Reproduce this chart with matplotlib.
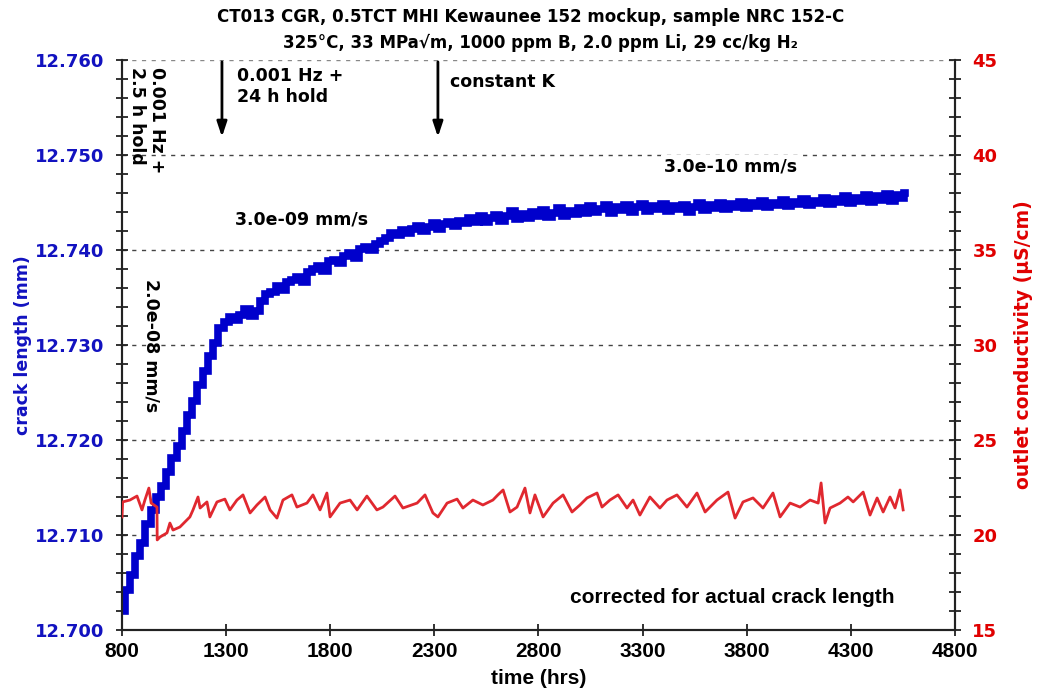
import matplotlib
matplotlib.use("Agg")
import matplotlib.pyplot as plt
from matplotlib.ticker import MultipleLocator, FormatStrFormatter

# ---------------- data ----------------
crack_hours = [800, 825, 850, 875, 900, 925, 950, 975, 1000, 1025, 1050, 1075, 1100, 1125, 1150,
               1175, 1200, 1225, 1250, 1275, 1300, 1325, 1350, 1375, 1400, 1425, 1450, 1475, 1500,
               1525, 1550, 1575, 1600, 1625, 1650, 1675, 1700, 1725, 1750, 1775, 1800, 1825, 1850,
               1875, 1900, 1925, 1950, 1975, 2000, 2025, 2050, 2075, 2100, 2125, 2150, 2175, 2200,
               2225, 2250, 2275, 2300, 2325, 2350, 2375, 2400, 2425, 2450, 2475, 2500, 2525, 2550,
               2575, 2600, 2625, 2650, 2675, 2700, 2725, 2750, 2775, 2800, 2825, 2850, 2875, 2900,
               2925, 2950, 2975, 3000, 3025, 3050, 3075, 3100, 3125, 3150, 3175, 3200, 3225, 3250,
               3275, 3300, 3325, 3350, 3375, 3400, 3425, 3450, 3475, 3500, 3525, 3550, 3575, 3600,
               3625, 3650, 3675, 3700, 3725, 3750, 3775, 3800, 3825, 3850, 3875, 3900, 3925, 3950,
               3975, 4000, 4025, 4050, 4075, 4100, 4125, 4150, 4175, 4200, 4225, 4250, 4275, 4300,
               4325, 4350, 4375, 4400, 4425, 4450, 4475, 4500, 4525, 4550, 4560]
crack_mm = [12.7020, 12.7042, 12.7058, 12.7078, 12.7092, 12.7112, 12.7126, 12.7140, 12.7152, 12.7166,
            12.7181, 12.7194, 12.7210, 12.7226, 12.7241, 12.7258, 12.7273, 12.7288, 12.7302, 12.7318,
            12.7324, 12.7330, 12.7326, 12.7332, 12.7338, 12.7331, 12.7336, 12.7346, 12.7354, 12.7356,
            12.7362, 12.7358, 12.7366, 12.7368, 12.7372, 12.7366, 12.7377, 12.7380, 12.7383, 12.7378,
            12.7388, 12.7390, 12.7386, 12.7394, 12.7397, 12.7392, 12.7401, 12.7403, 12.7400, 12.7406,
            12.7409, 12.7413, 12.7418, 12.7416, 12.7421, 12.7418, 12.7422, 12.7425, 12.7420, 12.7424,
            12.7428, 12.7422, 12.7427, 12.7430, 12.7425, 12.7431, 12.7428, 12.7434, 12.7430, 12.7436,
            12.7429, 12.7434, 12.7437, 12.7431, 12.7436, 12.7441, 12.7433, 12.7438, 12.7434, 12.7440,
            12.7436, 12.7442, 12.7435, 12.7439, 12.7444, 12.7436, 12.7441, 12.7438, 12.7444, 12.7439,
            12.7446, 12.7440, 12.7443, 12.7447, 12.7439, 12.7445, 12.7442, 12.7447, 12.7440, 12.7445,
            12.7448, 12.7441, 12.7446, 12.7443, 12.7448, 12.7441, 12.7446, 12.7443, 12.7447, 12.7440,
            12.7445, 12.7449, 12.7442, 12.7447, 12.7444, 12.7450, 12.7443, 12.7448, 12.7445, 12.7451,
            12.7444, 12.7449, 12.7446, 12.7452, 12.7445, 12.7450, 12.7447, 12.7453, 12.7446, 12.7451,
            12.7448, 12.7454, 12.7447, 12.7452, 12.7449, 12.7455, 12.7448, 12.7454, 12.7451, 12.7457,
            12.7450, 12.7455, 12.7452, 12.7458, 12.7451, 12.7457, 12.7453, 12.7459, 12.7452, 12.7458,
            12.7455, 12.7460]

cond_hours = [800, 803, 838, 872, 896, 910, 929, 940, 968, 969, 982, 1016, 1030, 1045, 1078, 1126,
              1141, 1165, 1175, 1208, 1222, 1256, 1294, 1318, 1352, 1381, 1415, 1448, 1487, 1511,
              1544, 1573, 1616, 1640, 1688, 1717, 1751, 1784, 1799, 1847, 1895, 1929, 1976, 2024,
              2053, 2111, 2149, 2217, 2255, 2293, 2317, 2361, 2409, 2437, 2485, 2533, 2581, 2605,
              2630, 2663, 2697, 2735, 2759, 2783, 2822, 2870, 2918, 2961, 2999, 3033, 3081, 3105,
              3143, 3182, 3225, 3254, 3287, 3335, 3383, 3417, 3465, 3513, 3561, 3600, 3657, 3710,
              3744, 3782, 3830, 3878, 3926, 3960, 4008, 4056, 4104, 4143, 4157, 4176, 4200, 4248,
              4286, 4311, 4359, 4392, 4426, 4455, 4488, 4512, 4536, 4551]
cond_uS = [20.95, 21.74, 21.84, 22.05, 21.32, 21.84, 22.47, 21.68, 21.47, 19.74, 19.89, 20.11,
           20.63, 20.26, 20.42, 20.95, 21.32, 22.00, 21.42, 21.74, 20.95, 21.74, 21.89, 21.32,
           21.84, 22.11, 21.16, 21.58, 22.00, 21.32, 20.89, 21.84, 22.11, 21.47, 21.68, 22.11,
           21.32, 22.21, 20.95, 21.68, 21.84, 21.32, 22.05, 21.32, 21.47, 22.05, 21.42, 21.68,
           22.11, 21.16, 20.95, 21.68, 21.89, 21.42, 21.84, 21.58, 21.84, 22.11, 22.37, 21.21,
           21.47, 22.47, 21.16, 22.11, 20.95, 21.68, 22.11, 21.21, 21.58, 21.95, 22.21, 21.47,
           21.84, 22.11, 21.42, 21.84, 21.05, 22.00, 21.42, 21.84, 22.11, 21.47, 22.21, 21.21,
           21.84, 22.26, 20.89, 21.74, 21.95, 21.42, 22.21, 20.95, 21.68, 21.47, 21.84, 21.68,
           22.74, 20.63, 21.42, 21.68, 22.00, 21.74, 22.26, 21.05, 21.95, 21.21, 22.00, 21.42,
           22.37, 21.32]

x_ticks = [800, 1300, 1800, 2300, 2800, 3300, 3800, 4300, 4800]
arrow_hours = [1280, 2317]

title_lines = ["CT013 CGR, 0.5TCT MHI Kewaunee 152 mockup, sample NRC 152-C",
               "325°C, 33 MPa√m, 1000 ppm B, 2.0 ppm Li, 29 cc/kg H₂"]

# ---------------- style ----------------
BLUE = "#0000CC"
BLUE_TXT = "#1212C0"
RED = "#E0282F"
RED_TXT = "#E00000"
BOLD = ["DejaVu Sans"]
NARROW = ["Liberation Sans Narrow", "Liberation Sans", "DejaVu Sans"]

fig = plt.figure(figsize=(10.38, 6.98), dpi=100)
ax = fig.add_axes([122 / 1038, 1 - 630 / 698, (955 - 122) / 1038, (630 - 60) / 698])
ax2 = ax.twinx()

ax.set_xlim(800, 4800)
ax.set_ylim(12.700, 12.760)
ax2.set_ylim(15, 45)

# grid lines (dotted)
for v in [12.710, 12.720, 12.730, 12.740, 12.750, 12.760]:
    ax.axhline(v, color="#444444" if v < 12.76 else "#888888", lw=1.0,
               dashes=(3, 4), zorder=0.5)

ax.plot(crack_hours, crack_mm, color=BLUE, lw=5.5, drawstyle="steps-mid",
        solid_joinstyle="miter", zorder=2)
ax2.plot(cond_hours, cond_uS, color=RED, lw=2.0, zorder=3)

# spines
for a in (ax, ax2):
    a.spines["top"].set_visible(False)
    for s in ("left", "right", "bottom"):
        a.spines[s].set_color("#222222")
        a.spines[s].set_linewidth(1.5)

ax.set_xticks(x_ticks)
ax.yaxis.set_major_locator(MultipleLocator(0.010))
ax.yaxis.set_minor_locator(MultipleLocator(0.002))
ax.yaxis.set_major_formatter(FormatStrFormatter("%.3f"))
ax2.yaxis.set_major_locator(MultipleLocator(5))
ax2.yaxis.set_minor_locator(MultipleLocator(1))

ax.tick_params(axis="both", which="both", direction="inout", length=9, width=1.3, color="#222222")
ax.tick_params(axis="y", labelcolor=BLUE_TXT, pad=8)
ax.tick_params(axis="x", pad=4)
ax2.tick_params(axis="y", which="both", direction="inout", length=9, width=1.3, color="#222222",
                labelcolor=RED_TXT, pad=8)

for lab in ax.get_yticklabels():
    lab.set_fontfamily(BOLD); lab.set_fontweight("bold"); lab.set_fontsize(13)
for lab in ax2.get_yticklabels():
    lab.set_fontfamily(BOLD); lab.set_fontweight("bold"); lab.set_fontsize(13)
for lab in ax.get_xticklabels():
    lab.set_fontfamily(NARROW); lab.set_fontweight("bold"); lab.set_fontsize(15)

ax.set_xlabel("time (hrs)", fontfamily=NARROW, fontweight="bold", fontsize=15, labelpad=6)
ax.set_ylabel("crack length (mm)", color=BLUE_TXT, fontfamily=BOLD, fontweight="bold",
              fontsize=12.5, labelpad=2)
ax2.set_ylabel("outlet conductivity (µS/cm)", color=RED_TXT, fontfamily=BOLD, fontweight="bold",
               fontsize=13.5, labelpad=12)

# title
fig.text(531 / 1038, 1 - 17 / 698, title_lines[0], ha="center", va="center",
         fontfamily=BOLD, fontweight="bold", fontsize=12)
fig.text(540 / 1038, 1 - 43 / 698, title_lines[1], ha="center", va="center",
         fontfamily=BOLD, fontweight="bold", fontsize=12)

tk = dict(fontfamily=BOLD, fontweight="bold", fontsize=12.5, color="black", zorder=4)
ax.text(920, 12.7593, "0.001 Hz +\n2.5 h hold", rotation=270, ha="center", va="top",
        multialignment="left", linespacing=1.15, **tk)
ax.text(1352, 12.7593, "0.001 Hz +\n24 h hold", ha="left", va="top", linespacing=1.25, **tk)
ax.text(2375, 12.7577, "constant K", ha="left", va="center", **tk)
ax.text(3720, 12.7488, "3.0e-10 mm/s", ha="center", va="center",
        bbox=dict(facecolor="white", edgecolor="none", pad=2), **tk)
ax.text(1664, 12.7432, "3.0e-09 mm/s", ha="center", va="center", **tk)
ax.text(944, 12.7299, "2.0e-08 mm/s", rotation=270, ha="center", va="center", **tk)
ax.text(3729, 12.7034, "corrected for actual crack length", ha="center", va="center",
        fontfamily=NARROW, fontweight="bold", fontsize=15, color="black")

for h in arrow_hours:
    ax.annotate("", xy=(h, 12.7519), xytext=(h, 12.7598),
                arrowprops=dict(arrowstyle="-|>,head_length=0.9,head_width=0.3",
                                lw=2, color="black", shrinkA=0, shrinkB=0), zorder=4)

fig.savefig("out.png", dpi=100)
